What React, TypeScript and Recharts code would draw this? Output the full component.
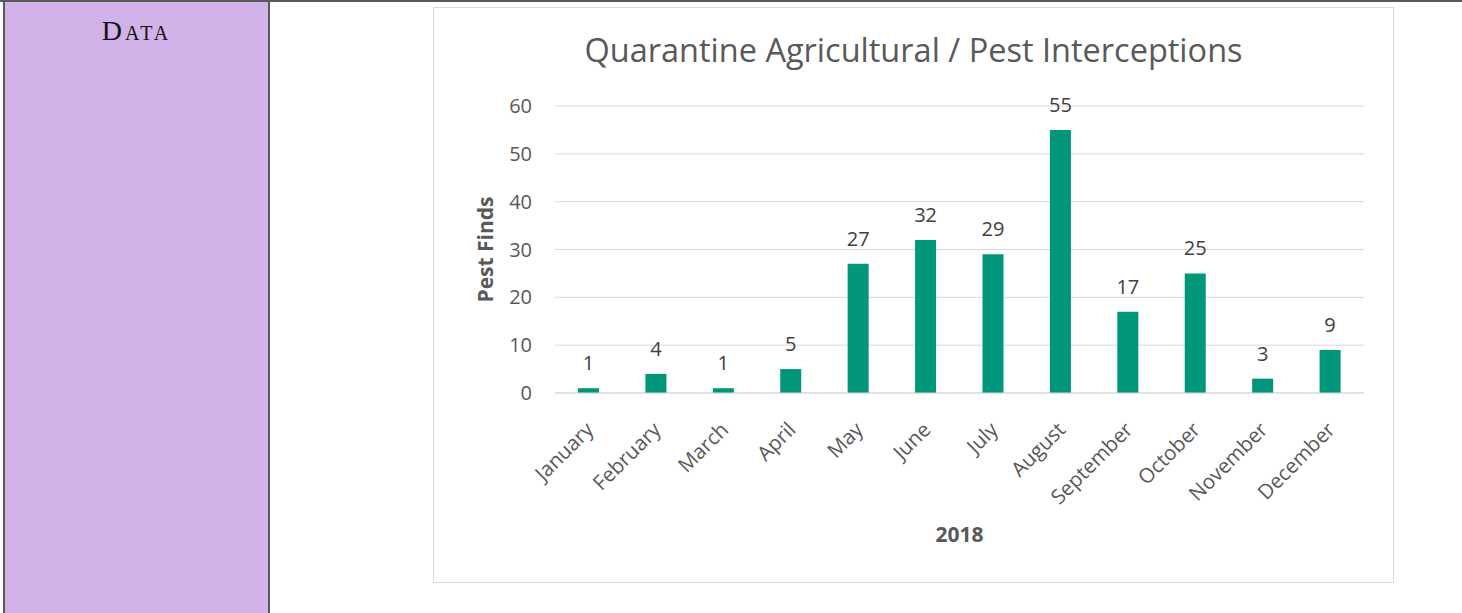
import { Bar, BarChart, CartesianGrid, LabelList, XAxis, YAxis } from "recharts";

// Monthly pest finds, 2018
const months = [
  "January",
  "February",
  "March",
  "April",
  "May",
  "June",
  "July",
  "August",
  "September",
  "October",
  "November",
  "December",
];
const pestFinds = [1, 4, 1, 5, 27, 32, 29, 55, 17, 25, 3, 9];
const yTicks = [0, 10, 20, 30, 40, 50, 60];

const data = months.map((month, i) => ({ month, finds: pestFinds[i] }));

const FONT = "'Open Sans', 'Segoe UI', sans-serif";
const TEXT = "#595959";
const GRID = "#d9d9d9";
const BAR = "#00967a";

function MonthTick({ x, y, payload }: any) {
  return (
    <text
      transform={`translate(${x + 6}, ${y + 30}) rotate(-45)`}
      textAnchor="end"
      fontFamily={FONT}
      fontSize={20.5}
      fill={TEXT}
    >
      {payload.value}
    </text>
  );
}

export default function App() {
  return (
    <div style={{ position: "absolute", top: 0, left: 0, width: 1462, height: 613, background: "#fff", overflow: "hidden" }}>
      {/* table frame */}
      <div style={{ position: "absolute", top: 0, left: 0, width: 1462, height: 2, background: "#595959" }} />
      <div style={{ position: "absolute", top: 0, left: 3, width: 2, height: 613, background: "#595959" }} />
      <div style={{ position: "absolute", top: 2, left: 5, width: 263, height: 611, background: "#d1b3e9" }} />
      <div style={{ position: "absolute", top: 0, left: 268, width: 2, height: 613, background: "#595959" }} />
      <div
        style={{
          position: "absolute",
          top: 17,
          left: 5,
          width: 263,
          textAlign: "center",
          fontFamily: "'Liberation Serif', serif",
          fontSize: 28,
          lineHeight: 1,
          fontVariant: "small-caps",
          letterSpacing: 3,
          color: "#111",
        }}
      >
        Data
      </div>

      {/* chart box */}
      <div
        style={{
          position: "absolute",
          top: 7,
          left: 433,
          width: 959,
          height: 574,
          border: `1px solid ${GRID}`,
          background: "#fff",
        }}
      >
        <div
          style={{
            position: "absolute",
            top: 22,
            left: 0,
            width: 959,
            textAlign: "center",
            fontFamily: FONT,
            fontSize: 32.5,
            lineHeight: "40px",
            color: TEXT,
          }}
        >
          Quarantine Agricultural / Pest Interceptions
        </div>
        <BarChart width={959} height={574} data={data} margin={{ top: 98, right: 29, left: 0, bottom: 0 }}>
          <CartesianGrid stroke={GRID} vertical={false} />
          <XAxis
            dataKey="month"
            height={189}
            tick={<MonthTick />}
            tickLine={false}
            axisLine={{ stroke: GRID }}
            interval={0}
            label={{
              content: ({ viewBox }: any) => (
                <text
                  x={viewBox.x + viewBox.width / 2}
                  y={viewBox.y + 149}
                  textAnchor="middle"
                  fontFamily={FONT}
                  fontSize={21}
                  fontWeight="bold"
                  fill={TEXT}
                >
                  2018
                </text>
              ),
            }}
          />
          <YAxis
            width={121}
            domain={[0, 60]}
            ticks={yTicks}
            tickLine={false}
            axisLine={false}
            tickSize={0}
            tickMargin={23}
            tick={{ fontFamily: FONT, fontSize: 20, fill: TEXT }}
            label={{
              content: ({ viewBox }: any) => {
                const cx = 59;
                const cy = viewBox.y + viewBox.height / 2;
                return (
                  <text
                    transform={`translate(${cx}, ${cy}) rotate(-90)`}
                    textAnchor="middle"
                    fontFamily={FONT}
                    fontSize={21}
                    fontWeight="bold"
                    fill={TEXT}
                  >
                    Pest Finds
                  </text>
                );
              },
            }}
          />
          <Bar dataKey="finds" fill={BAR} barSize={21} isAnimationActive={false}>
            <LabelList
              dataKey="finds"
              position="top"
              offset={18}
              fontFamily={FONT}
              fontSize={20}
              fill="#404040"
            />
          </Bar>
        </BarChart>
      </div>
    </div>
  );
}
